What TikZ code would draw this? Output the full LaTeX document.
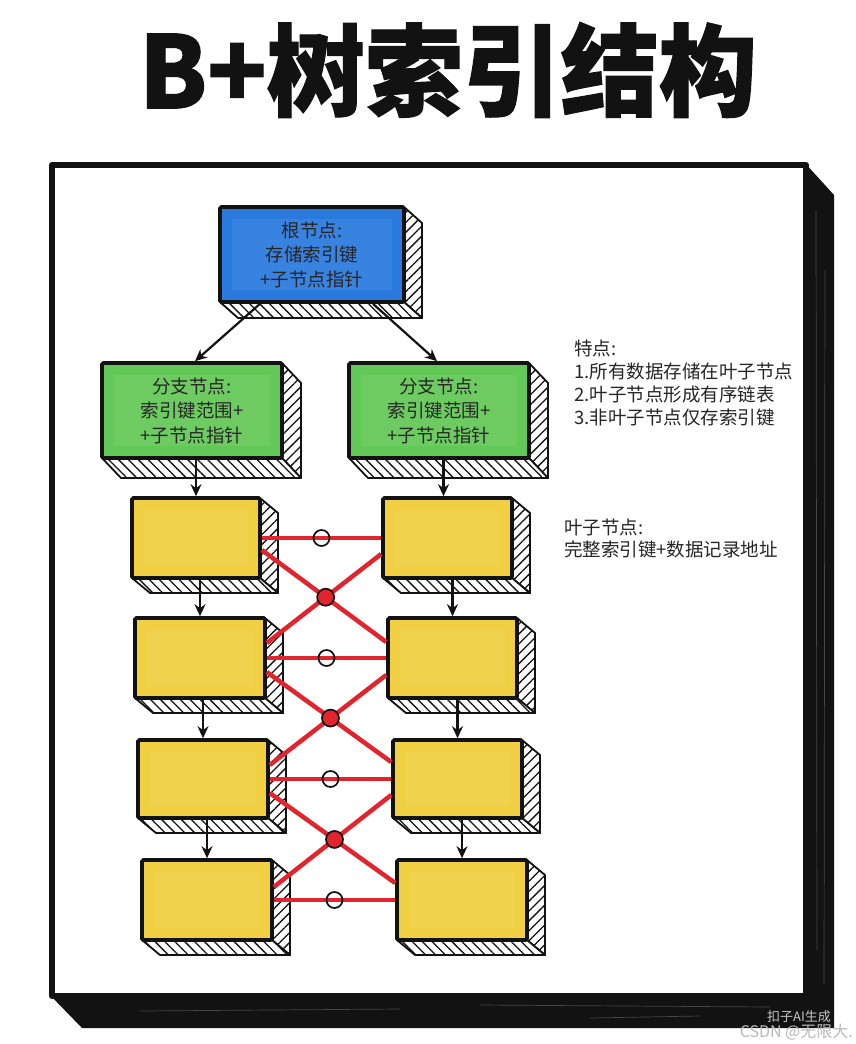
\documentclass[tikz,border=0pt]{standalone}
\usepackage{fontspec}
\newfontfamily\cjk{Noto Sans CJK SC}
\newfontfamily\titlefont{Noto Sans CJK SC}[BoldFeatures={FakeBold=1.2}]
\usetikzlibrary{arrows.meta,patterns.meta,intersections,calc}
\definecolor{rootblue}{RGB}{42,122,222}
\definecolor{branchgreen}{RGB}{98,200,86}
\definecolor{leafyellow}{RGB}{241,207,66}
\definecolor{linkred}{RGB}{226,36,46}
\definecolor{inkblack}{RGB}{18,18,18}
\tikzset{
  boxnode/.style={draw=inkblack, line width=3.6pt, rounded corners=1.5pt, inner sep=0pt},
  boxtext/.style={align=center, inner sep=0pt, text=black!85, font=\cjk\fontsize{18.5}{24.5}\selectfont},
  rightface/.style={draw=inkblack, line width=1.8pt, line join=round, fill=white,
    postaction={pattern={Lines[angle=45,distance=7pt,line width=1.3pt]}, pattern color=inkblack}},
  bottomface/.style={draw=inkblack, line width=1.8pt, line join=round, fill=white,
    postaction={pattern={Lines[angle=-45,distance=7pt,line width=1.3pt]}, pattern color=inkblack}},
  arr/.style={draw=inkblack, line width=2.2pt, -{Stealth[length=12pt,width=11pt]}},
  redlink/.style={draw=linkred, line width=4.5pt},
  opencirc/.style={circle, draw=inkblack, line width=1.7pt, minimum size=16pt, inner sep=0pt,
    path picture={\fill[linkred] ([yshift=-2.25pt]path picture bounding box.west) rectangle ([yshift=2.25pt]path picture bounding box.east);}},
  filledcirc/.style={circle, draw=inkblack, fill=linkred, line width=1.7pt, minimum size=17pt, inner sep=0pt},
  sidetext/.style={anchor=west, align=left, inner sep=0pt, text=black!85, font=\cjk\fontsize{18.5}{23.3}\selectfont},
}
% name, x1, y1, x2, y2, colour, text ; depth in \cdx, \cdy
\newcommand\mycube[7]{%
  \path[rightface] (#4,#3) -- ({#4+\cdx},{#3+\cdy}) -- ({#4+\cdx},{#5+\cdy}) -- (#4,#5) -- cycle;
  \path[bottomface] (#2,#5) -- (#4,#5) -- ({#4+\cdx},{#5+\cdy}) -- ({#2+\cdx},{#5+\cdy}) -- cycle;
  \node[boxnode, fill=#6, minimum width={(#4-#2)*1pt}, minimum height={(#5-#3)*1pt}] (#1) at ({(#2+#4)/2},{(#3+#5)/2}) {};
  \fill[white, opacity=0.07] ({#2+12},{#3+12}) rectangle ({#4-12},{#5-12});
  \node[boxtext] (#1-label) at (#1.center) {#7};
}
\begin{document}
\begin{tikzpicture}[x=1pt,y=-1pt]
\useasboundingbox (0,0) rectangle (855,1044);
\fill[white] (0,0) rectangle (855,1044);

% title
\node[font=\titlefont\bfseries\fontsize{100}{100}\selectfont, text=inkblack, inner sep=0pt, xscale=0.98] (title) at (448,70) {B+树索引结构};

% frame
\fill[inkblack] (804,162) -- (834,195) -- (834,1028) -- (804,994) -- cycle;
\fill[inkblack] (49,994) -- (806,994) -- (834,1028) -- (82,1028) -- cycle;
\draw[inkblack, line width=6pt, line join=round] (52,165) -- (806,165) -- (806,996) -- (52,996) -- cycle;
\begin{scope}[white, opacity=0.22, line width=0.7pt]
  \draw (816,210) -- (817,950);
  \draw (825,270) -- (824,985);
  \draw (140,1011) -- (400,1009);
  \draw (480,1005) -- (770,1007);
  \draw (590,1018) -- (700,1016);
\end{scope}

% root
\def\cdx{18}\def\cdy{16}
\mycube{root}{220}{207}{404}{302}{rootblue}{根节点:\\存储索引键\\+子节点指针}
% branches
\def\cdx{19}\def\cdy{20}
\mycube{b1}{102}{363}{282}{458}{branchgreen}{分支节点:\\索引键范围+\\+子节点指针}
\mycube{b2}{349}{363}{529}{458}{branchgreen}{分支节点:\\索引键范围+\\+子节点指针}
% leaves
\def\cdx{18}\def\cdy{15}
\mycube{L1}{132}{498}{260}{578}{leafyellow}{}
\mycube{R1}{383}{498}{512}{578}{leafyellow}{}
\mycube{L2}{135}{618}{265}{698}{leafyellow}{}
\mycube{R2}{388}{618}{517}{698}{leafyellow}{}
\mycube{L3}{138}{740}{268}{818}{leafyellow}{}
\mycube{R3}{393}{740}{522}{818}{leafyellow}{}
\mycube{L4}{142}{860}{272}{940}{leafyellow}{}
\mycube{R4}{397}{860}{527}{940}{leafyellow}{}

% arrows
\draw[arr] ($(root.south)+(-52,0)$) -- ($(b1.north)+(3,0)$);
\draw[arr] ($(root.south)+(61,0)$) -- ($(b2.north)+(-2,0)$);
\draw[arr] (L1.north |- b1.south) -- (L1.north);
\draw[arr] ($(R1.north |- b2.south)+(-4,0)$) -- ($(R1.north)+(-4,0)$);
\draw[arr] (L2.north |- L1.south) -- (L2.north);
\draw[arr] (L3.north |- L2.south) -- (L3.north);
\draw[arr] (L4.north |- L3.south) -- (L4.north);
\draw[arr] (R2.north |- R1.south) -- (R2.north);
\draw[arr] (R3.north |- R2.south) -- (R3.north);
\draw[arr] (R4.north |- R3.south) -- (R4.north);

% red links: horizontals
\draw[redlink] (L1.east) -- (R1.west) coordinate[midway] (h1);
\draw[redlink] (L2.east) -- (R2.west) coordinate[midway] (h2);
\draw[redlink] (L3.east) -- (R3.west) coordinate[midway] (h3);
\draw[redlink] (L4.east) -- (R4.west) coordinate[midway] (h4);
% red links: crosses
\draw[redlink, name path=xa1] ([yshift=-12pt]L1.east) -- ([yshift=16pt]R2.west);
\draw[redlink, name path=xb1] ([yshift=-16pt]R1.west) -- ([yshift=15pt]L2.east);
\draw[redlink, name path=xa2] ([yshift=-14pt]L2.east) -- ([yshift=17pt]R3.west);
\draw[redlink, name path=xb2] ([yshift=-17pt]R2.west) -- ([yshift=14pt]L3.east);
\draw[redlink, name path=xa3] ([yshift=-14pt]L3.east) -- ([yshift=17pt]R4.west);
\draw[redlink, name path=xb3] ([yshift=-16pt]R3.west) -- ([yshift=13pt]L4.east);
\path[name intersections={of=xa1 and xb1, by=k1}];
\path[name intersections={of=xa2 and xb2, by=k2}];
\path[name intersections={of=xa3 and xb3, by=k3}];
\node[filledcirc] (k1c) at (k1) {};
\node[filledcirc] (k2c) at (k2) {};
\node[filledcirc] (k3c) at (k3) {};
\node[opencirc] (h1c) at (h1) {};
\node[opencirc] (h2c) at (h2) {};
\node[opencirc] (h3c) at (h3) {};
\node[opencirc] (h4c) at (h4) {};

% side texts
\node[sidetext] (features) at (574,383) {特点:\\1.所有数据存储在叶子节点\\2.叶子节点形成有序链表\\3.非叶子节点仅存索引键};
\node[sidetext, font=\cjk\fontsize{18.5}{22}\selectfont] (leafnote) at (564,539) {叶子节点:\\完整索引键+数据记录地址};

% watermarks
\node[anchor=east, inner sep=0pt, text=gray!45, font=\cjk\fontsize{13}{13}\selectfont] (wm2) at (831,1017) {扣子AI生成};
\node[anchor=east, inner sep=0pt, text=gray!55, font=\cjk\fontsize{16}{16}\selectfont] (wm1) at (853,1032) {CSDN @无限大.};
\end{tikzpicture}
\end{document}
